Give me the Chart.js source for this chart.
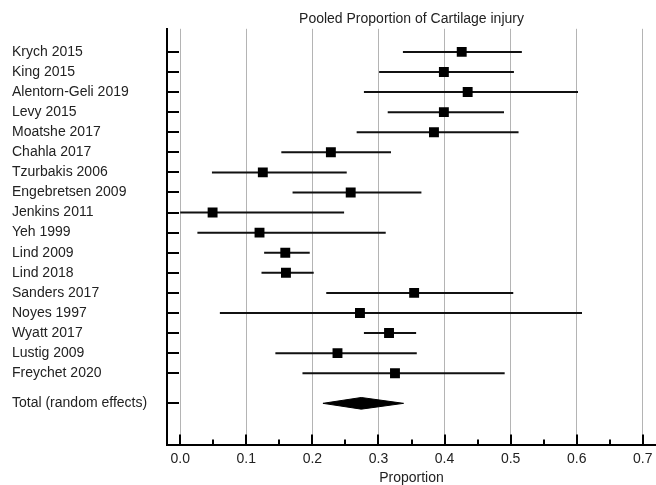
<!DOCTYPE html>
<html lang="en">
  <head>
    <meta charset="utf-8" />
    <style>
      * {
        margin: 0;
        padding: 0;
      }
      body {
        background: #fff;
      }
      .chartBox {
        width: 656px;
        height: 485px;
      }
    </style>
  </head>
  <body>
    <div class="chartBox">
      <canvas id="forest"></canvas>
    </div>
    <script src="https://cdn.jsdelivr.net/npm/chart.js/dist/chart.umd.min.js"></script>
    <script>
      // studies, top to bottom
      const studies = [
        "Krych 2015", "King 2015", "Alentorn-Geli 2019", "Levy 2015",
        "Moatshe 2017", "Chahla 2017", "Tzurbakis 2006", "Engebretsen 2009",
        "Jenkins 2011", "Yeh 1999", "Lind 2009", "Lind 2018",
        "Sanders 2017", "Noyes 1997", "Wyatt 2017", "Lustig 2009", "Freychet 2020",
      ];
      const proportion = [
        0.426, 0.399, 0.435, 0.399, 0.384, 0.228, 0.125, 0.258,
        0.049, 0.120, 0.159, 0.160, 0.354, 0.272, 0.316, 0.238, 0.325,
      ];
      const lowerCI = [
        0.337, 0.301, 0.278, 0.314, 0.267, 0.153, 0.048, 0.170,
        0.000, 0.026, 0.127, 0.123, 0.221, 0.060, 0.278, 0.144, 0.185,
      ];
      const upperCI = [
        0.517, 0.505, 0.602, 0.490, 0.512, 0.319, 0.252, 0.365,
        0.248, 0.311, 0.196, 0.202, 0.504, 0.608, 0.357, 0.358, 0.491,
      ];

      // pooled estimate
      const totalLabel = "Total (random effects)";
      const totalEst = 0.274;
      const totalCI = [0.216, 0.338];

      // row positions on the y axis (total sits below a gap)
      const studyRows = studies.map((s, i) => i);
      const totalRow = 17.5;
      const rowPos = [...studyRows, totalRow];
      const rowLabels = [...studies, totalLabel];

      const xTicks = [0, 0.1, 0.2, 0.3, 0.4, 0.5, 0.6, 0.7];
      const minorTicks = [0.05, 0.15, 0.25, 0.35, 0.45, 0.55, 0.65];

      // half height of the pooled diamond, in rows
      const diamondHalf = 0.29;

      // CI whiskers as one broken line
      const ciPoints = [];
      studyRows.forEach((r, i) => {
        ciPoints.push({ x: lowerCI[i], y: r }, { x: upperCI[i], y: r }, { x: null, y: null });
      });

      const estPoints = studyRows.map((r, i) => ({ x: proportion[i], y: r }));

      const diamondTop = [
        { x: totalCI[0], y: totalRow },
        { x: totalEst, y: totalRow - diamondHalf },
        { x: totalCI[1], y: totalRow },
      ];
      const diamondBottom = [
        { x: totalCI[0], y: totalRow },
        { x: totalEst, y: totalRow + diamondHalf },
        { x: totalCI[1], y: totalRow },
      ];

      // tick marks pointing into the plot
      const inwardTicks = {
        id: "inwardTicks",
        afterDraw(chart) {
          const { ctx, chartArea: a, scales } = chart;
          ctx.save();
          ctx.strokeStyle = "#000";
          ctx.lineWidth = 2;
          ctx.beginPath();
          rowPos.forEach((v) => {
            const py = Math.round(scales.y.getPixelForValue(v));
            ctx.moveTo(a.left, py);
            ctx.lineTo(a.left + 12, py);
          });
          xTicks.forEach((v) => {
            const px = Math.round(scales.x.getPixelForValue(v));
            ctx.moveTo(px, a.bottom);
            ctx.lineTo(px, a.bottom - 10);
          });
          minorTicks.forEach((v) => {
            const px = Math.round(scales.x.getPixelForValue(v));
            ctx.moveTo(px, a.bottom);
            ctx.lineTo(px, a.bottom - 5);
          });
          ctx.stroke();
          ctx.restore();
        },
      };

      const font = { family: "'Liberation Sans', Arial, sans-serif", size: 14 };

      const config = {
        type: "line",
        data: {
          datasets: [
            {
              data: estPoints,
              showLine: false,
              pointStyle: "rect",
              pointRadius: 7,
              backgroundColor: "#000",
              borderColor: "#000",
              borderWidth: 0,
            },
            {
              data: ciPoints,
              borderColor: "#111",
              borderWidth: 2,
              pointRadius: 0,
              spanGaps: false,
            },
            {
              data: diamondTop,
              borderColor: "#000",
              borderWidth: 1,
              pointRadius: 0,
              tension: 0,
              fill: "+1",
              backgroundColor: "#000",
            },
            {
              data: diamondBottom,
              borderColor: "#000",
              borderWidth: 1,
              pointRadius: 0,
              tension: 0,
            },
          ],
        },
        options: {
          responsive: true,
          maintainAspectRatio: false,
          animation: false,
          events: [],
          layout: {
            autoPadding: false,
            padding: { left: 12, right: 0, top: 0, bottom: 0 },
          },
          plugins: {
            legend: { display: false },
            tooltip: { enabled: false },
            title: {
              display: true,
              text: "Pooled Proportion of Cartilage injury",
              fullSize: false,
              color: "#222",
              font: { ...font, weight: "normal" },
              padding: { top: 11, bottom: 1 },
            },
          },
          scales: {
            x: {
              type: "linear",
              min: -0.02,
              max: 0.72,
              afterBuildTicks: (scale) => {
                scale.ticks = xTicks.map((v) => ({ value: v }));
              },
              afterFit: (scale) => {
                scale.height = 40.5;
                scale.paddingLeft = 0;
                scale.paddingRight = 0;
              },
              ticks: {
                color: "#222",
                font,
                padding: 6,
                maxRotation: 0,
                callback: (v) => Number(v).toFixed(1),
              },
              grid: {
                color: "#b4b4b4",
                lineWidth: 1,
                drawTicks: false,
              },
              border: { display: true, color: "#000", width: 2 },
              title: {
                display: true,
                text: "Proportion",
                color: "#222",
                font,
                padding: { top: 0, bottom: -2 },
              },
            },
            y: {
              type: "linear",
              reverse: true,
              min: -1.15,
              max: 19.55,
              afterBuildTicks: (scale) => {
                scale.ticks = rowPos.map((v) => ({ value: v }));
              },
              afterFit: (scale) => {
                scale.width = 155;
                scale.paddingTop = 0;
                scale.paddingBottom = 0;
              },
              ticks: {
                autoSkip: false,
                crossAlign: "far",
                color: "#222",
                font,
                callback: (v) => rowLabels[rowPos.indexOf(v)],
              },
              grid: { display: false, drawTicks: false },
              border: { display: true, color: "#000", width: 2 },
            },
          },
        },
        plugins: [inwardTicks],
      };

      const forestChart = new Chart(document.getElementById("forest"), config);
    </script>
  </body>
</html>
